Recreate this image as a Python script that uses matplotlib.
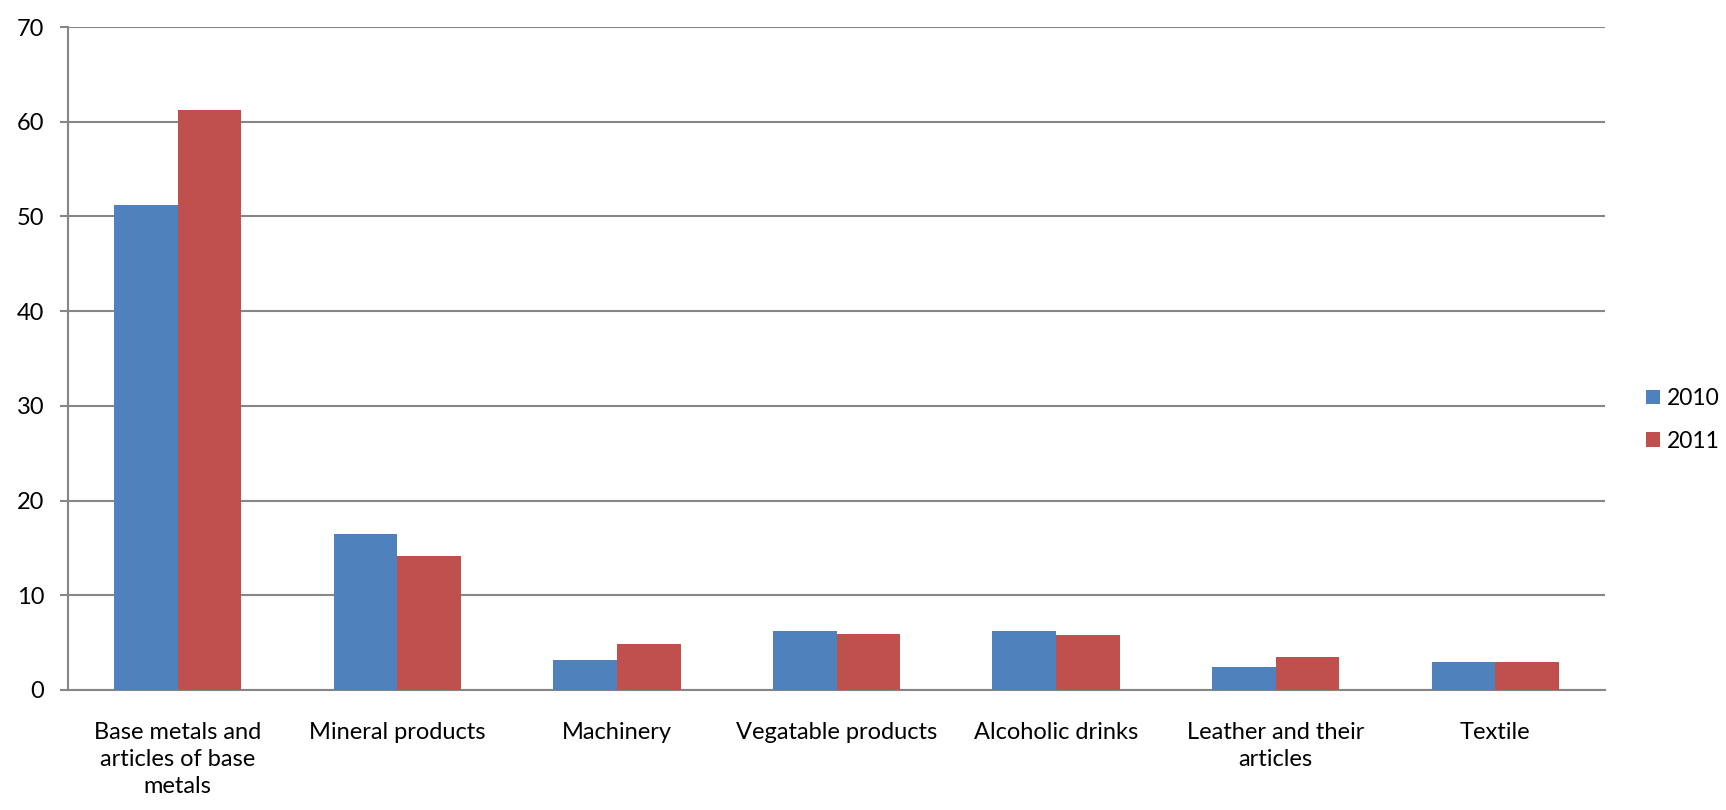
import numpy as np
import matplotlib.pyplot as plt

categories = ["Base metals and\narticles of base\nmetals", "Mineral products", "Machinery",
              "Vegatable products", "Alcoholic drinks", "Leather and their\narticles", "Textile"]
years = ["2010", "2011"]
values_2010 = [51.2, 16.5, 3.2, 6.2, 6.2, 2.4, 3.0]
values_2011 = [61.2, 14.2, 4.9, 5.9, 5.8, 3.5, 3.0]
y_ticks = [0, 10, 20, 30, 40, 50, 60, 70]

plt.rcParams['font.family'] = ['Lato', 'DejaVu Sans']
grey = '#868686'
fs = 17

fig = plt.figure(figsize=(17.26, 8.10), dpi=100)
ax = fig.add_axes([68 / 1726, 1 - 690 / 810, (1605 - 68) / 1726, (690 - 27) / 810])

x = np.arange(len(categories))
w = 0.29
b1 = ax.bar(x - w / 2, values_2010, w, color='#4F81BD', label=years[0], zorder=3)
b2 = ax.bar(x + w / 2, values_2011, w, color='#C0504D', label=years[1], zorder=3)

ax.set_xlim(-0.5, len(categories) - 0.5)
ax.set_ylim(0, 70)
ax.set_yticks(y_ticks)
ax.set_yticklabels([str(v) for v in y_ticks], fontsize=fs)
ax.set_xticks(x)
ax.set_xticklabels(categories, fontsize=fs, linespacing=1.35, va='top')
ax.tick_params(axis='x', length=0, pad=23)
ax.tick_params(axis='y', length=6, width=1.5, color=grey, pad=11)
ax.yaxis.grid(True, color=grey, linewidth=1.5, zorder=0)
ax.set_axisbelow(True)
for side in ['top', 'right']:
    ax.spines[side].set_visible(False)
for side in ['left', 'bottom']:
    ax.spines[side].set_color(grey)
    ax.spines[side].set_linewidth(1.5)

fig.legend(handles=[b1, b2], labels=years, loc='center left', bbox_to_anchor=(1646 / 1726, 1 - 420 / 810),
           frameon=False, fontsize=16.5, borderpad=0, borderaxespad=0, handlelength=0.62, handleheight=0.62,
           handletextpad=0.3, labelspacing=0.95)

fig.savefig('out.png', dpi=100)
